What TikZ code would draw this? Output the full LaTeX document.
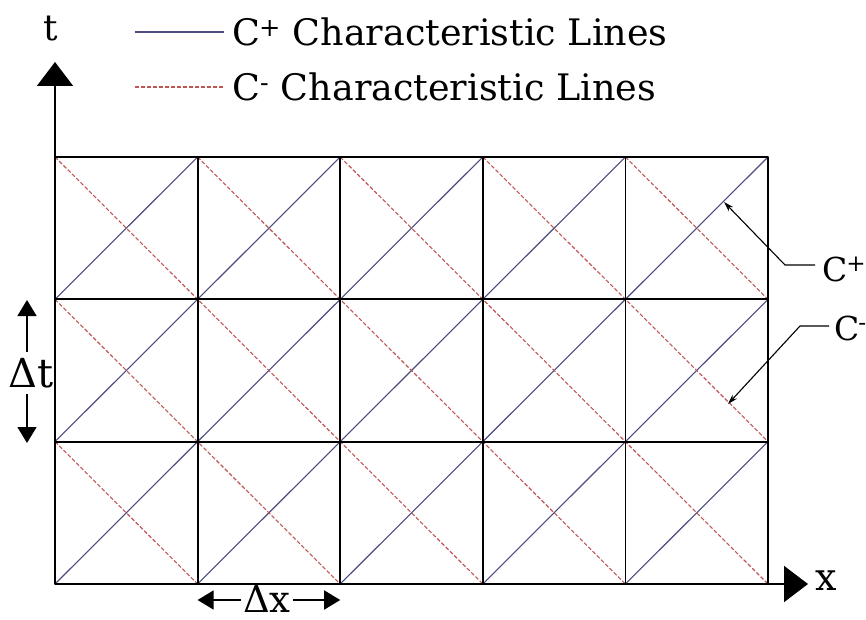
\documentclass[tikz,border=0pt]{standalone}
\usepackage{fontspec}
\setmainfont{DejaVu Serif}
\usetikzlibrary{arrows.meta}
\definecolor{cplusblue}{HTML}{4B4B80}
\definecolor{cminusred}{HTML}{C05555}

\begin{document}
\begin{tikzpicture}[
  x=1pt,
  y=-1pt,
  line join=round,
  gridline/.style={draw=black,line width=1.8pt},
  cplusline/.style={draw=cplusblue,line width=1.1pt},
  cminusline/.style={draw=cminusred,line width=1.1pt,dash pattern=on 4pt off 2pt},
  axis/.style={draw=black,line width=1.8pt,-{Triangle[length=24pt,width=36pt]}},
  dimarrow/.style={draw=black,line width=1.5pt,-{Triangle[length=16pt,width=19pt]}},
  leader/.style={draw=black,line width=1.1pt,-{Stealth[length=10pt,width=6pt]}},
  legendtext/.style={font=\fontsize{36.5}{40}\selectfont,inner sep=0pt},
  labeltext/.style={font=\fontsize{33}{38}\selectfont,inner sep=0pt},
  deltatext/.style={font=\fontsize{37}{42}\selectfont,inner sep=1pt}
]
  % Keep the frame of the original figure.
  \useasboundingbox (0,0) rectangle (866,620);

  % Mesh of the x-t plane: 5 steps in x, 3 steps in t.
  \begin{scope}[shift={(55,157)},x=142.6pt,y=-142.33pt]
    \draw[cplusline] (0,1) -- (1,0) (0,2) -- (2,0) (0,3) -- (3,0) (1,3) -- (4,0)
      (2,3) -- (5,0) (3,3) -- (5,1) (4,3) -- (5,2);
    \draw[cminusline] (0,2) -- (1,3) (0,1) -- (2,3) (0,0) -- (3,3) (1,0) -- (4,3)
      (2,0) -- (5,3) (3,0) -- (5,2) (4,0) -- (5,1);
    \draw[gridline] (0,0) rectangle (5,3);
    \draw[gridline] (1,0) -- (1,3) (2,0) -- (2,3) (3,0) -- (3,3) (4,0) -- (4,3);
    \draw[gridline] (0,1) -- (5,1) (0,2) -- (5,2);
  \end{scope}

  % Axes.
  \coordinate (origin) at (55,584);
  \coordinate (ttip) at (55,62);
  \coordinate (xtip) at (808,584);
  \draw[axis] (origin) -- (ttip);
  \draw[axis] (origin) -- (xtip);
  \node[labeltext,font=\fontsize{36}{40}\selectfont] (tlabel) at (51,29) {t};
  \node[labeltext,font=\fontsize{38}{40}\selectfont] (xlabel) at (826,581) {x};

  % Legend.
  \node[legendtext,anchor=west] (legplus) at (232,32) {C\kern-1pt\textsuperscript{+} Characteristic Lines};
  \node[legendtext,anchor=west] (legminus) at (232,87) {C\textsuperscript{-} Characteristic Lines};
  \coordinate (legplusA) at (135,32);
  \coordinate (legminusA) at (135,87);
  \draw[cplusline,shorten >=8pt] (legplusA) -- (legplus.west);
  \draw[cminusline,shorten >=8pt] (legminusA) -- (legminus.west);

  % Labels pointing at one line of each family.
  \node[labeltext,anchor=base west] (cplus) at (822,281) {C\kern-1pt\textsuperscript{+}};
  \node[labeltext,anchor=base west] (cminus) at (834,340) {C\kern-1pt\textsuperscript{-}};
  \coordinate (cplusknee) at (785,265);
  \coordinate (cplustip) at (724,202);
  \coordinate (cminusknee) at (800,326);
  \coordinate (cminustip) at (728,404);
  \draw[leader,shorten <=7pt] (cplus.west |- cplusknee) -- (cplusknee) -- (cplustip);
  \draw[leader,shorten <=5pt] (cminus.west |- cminusknee) -- (cminusknee) -- (cminustip);

  % Step sizes.
  \node[deltatext,font=\fontsize{40}{46}\selectfont] (dt) at (31,373) {Δt};
  \coordinate (dttop) at (27,300);
  \coordinate (dtbottom) at (27,443);
  \draw[dimarrow,shorten <=5pt] (dt.north -| dttop) -- (dttop);
  \draw[dimarrow,shorten <=5pt] (dt.south -| dtbottom) -- (dtbottom);

  \node[deltatext,inner sep=0pt] (dx) at (267,599) {Δx};
  \coordinate (dxleft) at (197.6,600);
  \coordinate (dxright) at (340.2,600);
  \draw[dimarrow,shorten <=2pt] (dx.west |- dxleft) -- (dxleft);
  \draw[dimarrow,shorten <=2pt] (dx.east |- dxright) -- (dxright);
\end{tikzpicture}
\end{document}
